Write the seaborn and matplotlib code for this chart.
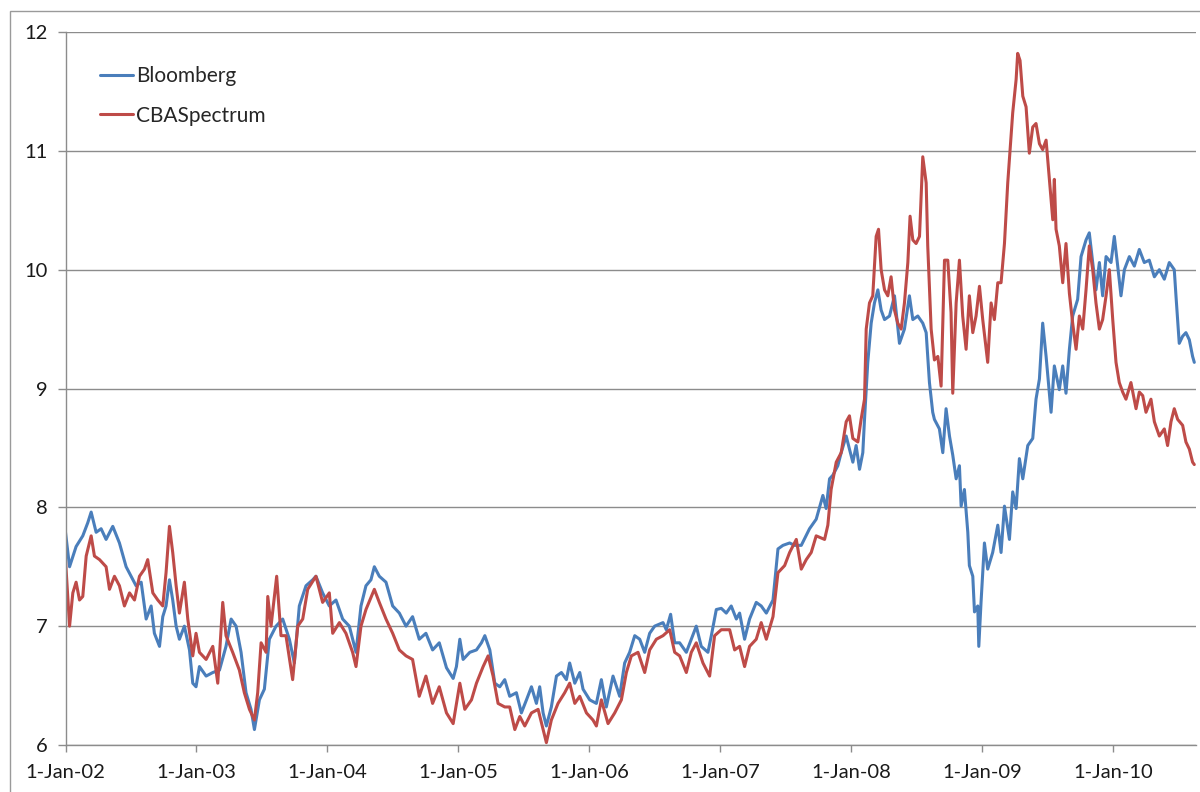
import numpy as np
import pandas as pd
import matplotlib
matplotlib.use("Agg")
import matplotlib.pyplot as plt
import seaborn as sns
from matplotlib.patches import Rectangle

# ---- data (time in decimal years) ----
bloomberg_t = [
    2002.000, 2002.031, 2002.081, 2002.132, 2002.170, 2002.196, 2002.234, 2002.272, 2002.310, 2002.361,
    2002.412, 2002.463, 2002.501, 2002.539, 2002.578, 2002.616, 2002.654, 2002.679, 2002.718, 2002.743,
    2002.768, 2002.794, 2002.819, 2002.845, 2002.870, 2002.908, 2002.947, 2002.972, 2002.997, 2003.023,
    2003.074, 2003.125, 2003.176, 2003.226, 2003.265, 2003.303, 2003.341, 2003.379, 2003.417, 2003.443,
    2003.481, 2003.519, 2003.557, 2003.608, 2003.659, 2003.710, 2003.748, 2003.786, 2003.837, 2003.888,
    2003.913, 2003.964, 2004.015, 2004.066, 2004.117, 2004.168, 2004.219, 2004.257, 2004.295, 2004.333,
    2004.359, 2004.397, 2004.448, 2004.499, 2004.550, 2004.601, 2004.651, 2004.702, 2004.753, 2004.804,
    2004.855, 2004.910, 2004.961, 2004.986, 2005.012, 2005.037, 2005.088, 2005.139, 2005.177, 2005.203,
    2005.241, 2005.279, 2005.317, 2005.355, 2005.393, 2005.444, 2005.482, 2005.521, 2005.559, 2005.597,
    2005.622, 2005.648, 2005.673, 2005.711, 2005.750, 2005.788, 2005.826, 2005.851, 2005.890, 2005.928,
    2005.953, 2006.004, 2006.055, 2006.093, 2006.131, 2006.182, 2006.233, 2006.271, 2006.309, 2006.348,
    2006.386, 2006.424, 2006.462, 2006.500, 2006.564, 2006.589, 2006.622, 2006.653, 2006.691, 2006.742,
    2006.780, 2006.818, 2006.856, 2006.907, 2006.933, 2006.971, 2007.009, 2007.047, 2007.085, 2007.124,
    2007.149, 2007.187, 2007.225, 2007.276, 2007.314, 2007.353, 2007.404, 2007.442, 2007.480, 2007.531,
    2007.569, 2007.607, 2007.620, 2007.683, 2007.734, 2007.785, 2007.810, 2007.836, 2007.861, 2007.899,
    2007.925, 2007.963, 2007.988, 2008.014, 2008.039, 2008.065, 2008.090, 2008.103, 2008.128, 2008.154,
    2008.179, 2008.205, 2008.230, 2008.256, 2008.294, 2008.332, 2008.370, 2008.408, 2008.446, 2008.472,
    2008.510, 2008.548, 2008.574, 2008.599, 2008.624, 2008.637, 2008.675, 2008.701, 2008.726, 2008.752,
    2008.777, 2008.803, 2008.828, 2008.841, 2008.866, 2008.892, 2008.904, 2008.930, 2008.943, 2008.968,
    2008.976, 2008.993, 2009.019, 2009.044, 2009.082, 2009.121, 2009.146, 2009.172, 2009.210, 2009.235,
    2009.261, 2009.286, 2009.312, 2009.350, 2009.388, 2009.413, 2009.439, 2009.464, 2009.490, 2009.528,
    2009.553, 2009.591, 2009.617, 2009.642, 2009.668, 2009.693, 2009.731, 2009.757, 2009.795, 2009.820,
    2009.846, 2009.871, 2009.897, 2009.922, 2009.948, 2009.986, 2010.011, 2010.037, 2010.062, 2010.088,
    2010.126, 2010.164, 2010.202, 2010.240, 2010.278, 2010.317, 2010.355, 2010.393, 2010.431, 2010.469,
    2010.482, 2010.507, 2010.533, 2010.558, 2010.584, 2010.609, 2010.622,
]
bloomberg_v = [
    7.79, 7.50, 7.67, 7.76, 7.87, 7.96, 7.79, 7.82, 7.73, 7.84,
    7.70, 7.50, 7.42, 7.34, 7.37, 7.06, 7.17, 6.94, 6.83, 7.08,
    7.17, 7.39, 7.22, 7.00, 6.89, 7.00, 6.80, 6.52, 6.49, 6.66,
    6.58, 6.61, 6.63, 6.83, 7.06, 7.00, 6.78, 6.44, 6.30, 6.13,
    6.38, 6.47, 6.89, 7.00, 7.06, 6.89, 6.69, 7.17, 7.34, 7.39,
    7.42, 7.28, 7.17, 7.22, 7.06, 7.00, 6.78, 7.17, 7.34, 7.39,
    7.50, 7.42, 7.37, 7.17, 7.11, 7.00, 7.08, 6.89, 6.94, 6.80,
    6.86, 6.65, 6.56, 6.66, 6.89, 6.72, 6.78, 6.80, 6.86, 6.92,
    6.80, 6.52, 6.49, 6.55, 6.41, 6.44, 6.27, 6.38, 6.49, 6.35,
    6.49, 6.27, 6.16, 6.32, 6.58, 6.61, 6.55, 6.69, 6.52, 6.61,
    6.47, 6.38, 6.35, 6.55, 6.32, 6.58, 6.41, 6.69, 6.78, 6.92,
    6.89, 6.78, 6.94, 7.00, 7.03, 6.97, 7.10, 6.86, 6.86, 6.78,
    6.89, 7.00, 6.83, 6.78, 6.92, 7.14, 7.15, 7.11, 7.17, 7.06,
    7.11, 6.89, 7.06, 7.20, 7.17, 7.11, 7.22, 7.65, 7.68, 7.70,
    7.68, 7.68, 7.68, 7.82, 7.90, 8.10, 7.99, 8.24, 8.27, 8.35,
    8.46, 8.60, 8.49, 8.38, 8.52, 8.32, 8.46, 8.74, 9.22, 9.55,
    9.72, 9.83, 9.66, 9.58, 9.61, 9.78, 9.38, 9.50, 9.78, 9.58,
    9.61, 9.55, 9.47, 9.05, 8.80, 8.74, 8.66, 8.46, 8.83, 8.60,
    8.44, 8.24, 8.35, 8.01, 8.15, 7.79, 7.51, 7.42, 7.12, 7.17,
    6.83, 7.20, 7.70, 7.48, 7.62, 7.85, 7.62, 8.01, 7.73, 8.13,
    7.99, 8.41, 8.24, 8.52, 8.58, 8.91, 9.08, 9.55, 9.27, 8.80,
    9.19, 8.99, 9.19, 8.96, 9.33, 9.61, 9.75, 10.11, 10.25, 10.31,
    10.06, 9.83, 10.06, 9.78, 10.11, 10.06, 10.28, 10.03, 9.78, 10.00,
    10.11, 10.03, 10.17, 10.06, 10.08, 9.94, 10.00, 9.92, 10.06, 10.00,
    9.78, 9.38, 9.44, 9.47, 9.41, 9.27, 9.22,
]

cba_t = [
    2002.000, 2002.031, 2002.056, 2002.081, 2002.107, 2002.132, 2002.158, 2002.196, 2002.221, 2002.260,
    2002.310, 2002.336, 2002.374, 2002.412, 2002.450, 2002.489, 2002.527, 2002.565, 2002.603, 2002.628,
    2002.667, 2002.705, 2002.743, 2002.768, 2002.794, 2002.819, 2002.845, 2002.870, 2002.908, 2002.934,
    2002.972, 2002.997, 2003.023, 2003.074, 2003.125, 2003.163, 2003.201, 2003.226, 2003.277, 2003.328,
    2003.366, 2003.405, 2003.443, 2003.468, 2003.494, 2003.532, 2003.545, 2003.570, 2003.613, 2003.646,
    2003.684, 2003.735, 2003.774, 2003.812, 2003.850, 2003.913, 2003.964, 2004.015, 2004.041, 2004.092,
    2004.142, 2004.193, 2004.219, 2004.257, 2004.295, 2004.359, 2004.397, 2004.448, 2004.499, 2004.550,
    2004.601, 2004.651, 2004.702, 2004.753, 2004.804, 2004.855, 2004.910, 2004.961, 2005.012, 2005.050,
    2005.101, 2005.139, 2005.190, 2005.228, 2005.266, 2005.304, 2005.355, 2005.393, 2005.432, 2005.470,
    2005.508, 2005.559, 2005.610, 2005.648, 2005.673, 2005.711, 2005.762, 2005.813, 2005.851, 2005.890,
    2005.928, 2005.979, 2006.029, 2006.055, 2006.093, 2006.144, 2006.195, 2006.246, 2006.284, 2006.322,
    2006.373, 2006.424, 2006.462, 2006.513, 2006.564, 2006.615, 2006.653, 2006.691, 2006.742, 2006.780,
    2006.818, 2006.869, 2006.920, 2006.958, 2007.009, 2007.073, 2007.111, 2007.149, 2007.187, 2007.225,
    2007.276, 2007.314, 2007.353, 2007.404, 2007.442, 2007.493, 2007.531, 2007.582, 2007.620, 2007.658,
    2007.696, 2007.734, 2007.798, 2007.823, 2007.848, 2007.887, 2007.925, 2007.963, 2007.988, 2008.014,
    2008.052, 2008.077, 2008.103, 2008.116, 2008.141, 2008.166, 2008.192, 2008.210, 2008.230, 2008.256,
    2008.281, 2008.306, 2008.332, 2008.357, 2008.383, 2008.408, 2008.434, 2008.451, 2008.472, 2008.497,
    2008.523, 2008.548, 2008.574, 2008.586, 2008.612, 2008.637, 2008.663, 2008.688, 2008.714, 2008.739,
    2008.764, 2008.777, 2008.803, 2008.828, 2008.853, 2008.879, 2008.904, 2008.930, 2008.955, 2008.981,
    2009.006, 2009.044, 2009.070, 2009.095, 2009.121, 2009.146, 2009.172, 2009.197, 2009.235, 2009.261,
    2009.273, 2009.291, 2009.312, 2009.337, 2009.362, 2009.388, 2009.413, 2009.439, 2009.464, 2009.490,
    2009.515, 2009.541, 2009.553, 2009.566, 2009.591, 2009.617, 2009.642, 2009.668, 2009.693, 2009.719,
    2009.744, 2009.770, 2009.795, 2009.820, 2009.846, 2009.871, 2009.897, 2009.922, 2009.948, 2009.973,
    2009.999, 2010.024, 2010.049, 2010.075, 2010.100, 2010.138, 2010.177, 2010.202, 2010.228, 2010.253,
    2010.291, 2010.317, 2010.355, 2010.393, 2010.418, 2010.444, 2010.469, 2010.495, 2010.533, 2010.558,
    2010.584, 2010.609, 2010.622,
]
cba_v = [
    7.56, 7.00, 7.28, 7.37, 7.22, 7.25, 7.59, 7.76, 7.59, 7.56,
    7.50, 7.31, 7.42, 7.34, 7.17, 7.28, 7.22, 7.42, 7.48, 7.56,
    7.28, 7.22, 7.17, 7.45, 7.84, 7.62, 7.34, 7.11, 7.37, 7.06,
    6.75, 6.94, 6.78, 6.72, 6.83, 6.52, 7.20, 6.92, 6.78, 6.63,
    6.44, 6.30, 6.21, 6.44, 6.86, 6.78, 7.25, 7.00, 7.42, 6.92,
    6.92, 6.55, 7.00, 7.06, 7.31, 7.42, 7.20, 7.28, 6.94, 7.03,
    6.94, 6.78, 6.66, 7.00, 7.14, 7.31, 7.20, 7.06, 6.94, 6.80,
    6.75, 6.72, 6.41, 6.58, 6.35, 6.49, 6.27, 6.18, 6.52, 6.30,
    6.38, 6.52, 6.66, 6.75, 6.58, 6.35, 6.32, 6.32, 6.13, 6.24,
    6.16, 6.27, 6.30, 6.13, 6.02, 6.21, 6.35, 6.44, 6.52, 6.35,
    6.41, 6.27, 6.21, 6.16, 6.38, 6.18, 6.27, 6.38, 6.61, 6.75,
    6.78, 6.61, 6.80, 6.89, 6.92, 6.97, 6.78, 6.75, 6.61, 6.78,
    6.86, 6.69, 6.58, 6.92, 6.97, 6.97, 6.80, 6.83, 6.66, 6.83,
    6.89, 7.03, 6.89, 7.08, 7.45, 7.51, 7.62, 7.73, 7.48, 7.56,
    7.62, 7.76, 7.73, 7.85, 8.15, 8.38, 8.46, 8.72, 8.77, 8.58,
    8.55, 8.74, 8.91, 9.50, 9.72, 9.78, 10.28, 10.34, 10.00, 9.83,
    9.78, 9.94, 9.66, 9.55, 9.50, 9.72, 10.06, 10.45, 10.25, 10.22,
    10.28, 10.95, 10.73, 10.20, 9.50, 9.24, 9.27, 9.02, 10.08, 10.08,
    9.64, 8.96, 9.72, 10.08, 9.61, 9.33, 9.78, 9.47, 9.61, 9.86,
    9.58, 9.22, 9.72, 9.58, 9.89, 9.89, 10.22, 10.73, 11.32, 11.60,
    11.82, 11.76, 11.46, 11.37, 10.98, 11.20, 11.23, 11.06, 11.01, 11.09,
    10.76, 10.42, 10.76, 10.34, 10.20, 9.89, 10.22, 9.80, 9.55, 9.33,
    9.61, 9.50, 9.83, 10.20, 10.00, 9.72, 9.50, 9.58, 9.78, 10.00,
    9.58, 9.22, 9.05, 8.97, 8.91, 9.05, 8.83, 8.97, 8.94, 8.80,
    8.91, 8.72, 8.60, 8.66, 8.52, 8.72, 8.83, 8.74, 8.69, 8.55,
    8.49, 8.38, 8.36,
]

series_names = ["Bloomberg", "CBASpectrum"]
series_colors = ["#4A7EBB", "#BE4B48"]
tick_years = list(range(2002, 2011))
tick_labels = [f"1-Jan-{y % 100:02d}" for y in tick_years]
y_ticks = [6, 7, 8, 9, 10, 11, 12]

ORIGIN = pd.Timestamp("2002-01-01")


def to_dates(t):
    return ORIGIN + pd.to_timedelta((np.asarray(t, dtype=float) - 2002.0) * 365.25, unit="D")


df = pd.concat([
    pd.DataFrame({"date": to_dates(bloomberg_t), "value": bloomberg_v, "series": series_names[0]}),
    pd.DataFrame({"date": to_dates(cba_t), "value": cba_v, "series": series_names[1]}),
], ignore_index=True)

sns.set_style("white")
plt.rcParams["font.family"] = ["Lato", "DejaVu Sans"]

W, H = 1200, 792
fig = plt.figure(figsize=(W / 100, H / 100), dpi=100)
ax = fig.add_axes([65.5 / W, 1 - 745 / H, (1196 - 65.5) / W, (745 - 32) / H])

sns.lineplot(
    data=df, x="date", y="value", hue="series", hue_order=series_names,
    palette=dict(zip(series_names, series_colors)), estimator=None, sort=False,
    linewidth=2.2, ax=ax, legend=True,
)

grey = "#8C8C8C"
ax.set_ylim(6, 12)
ax.set_yticks(y_ticks)
ax.set_xlim(to_dates([2002.0])[0], to_dates([2010.635])[0])
ax.set_xticks(to_dates(tick_years))
ax.set_xticklabels(tick_labels)
ax.set_xlabel("")
ax.set_ylabel("")

ax.yaxis.grid(True, color=grey, linewidth=1.0)
ax.xaxis.grid(False)
ax.set_axisbelow(True)
for side in ["top", "right"]:
    ax.spines[side].set_visible(False)
for side in ["left", "bottom"]:
    ax.spines[side].set_color(grey)
    ax.spines[side].set_linewidth(1.0)

ax.tick_params(axis="y", direction="out", length=6, width=1, color=grey,
               labelsize=14.5, labelcolor="#1a1a1a", pad=7, left=True)
ax.tick_params(axis="x", direction="out", length=5, width=1, color=grey,
               labelsize=14.5, labelcolor="#1a1a1a", pad=9, bottom=True)

handles, labels = ax.get_legend_handles_labels()
ax.legend(handles, labels, loc="upper left", bbox_to_anchor=(100 / W, 1 - 66 / H),
          bbox_transform=fig.transFigure, frameon=False, fontsize=15,
          handlelength=1.6, handletextpad=0.15, labelspacing=0.95,
          borderpad=0, borderaxespad=0)

fig.patches.append(Rectangle((10 / W, -0.1), 1.2, (H - 11) / H + 0.1,
                             transform=fig.transFigure, fill=False,
                             edgecolor="#9A9A9A", linewidth=1.0))

fig.savefig("out.png", dpi=100)
